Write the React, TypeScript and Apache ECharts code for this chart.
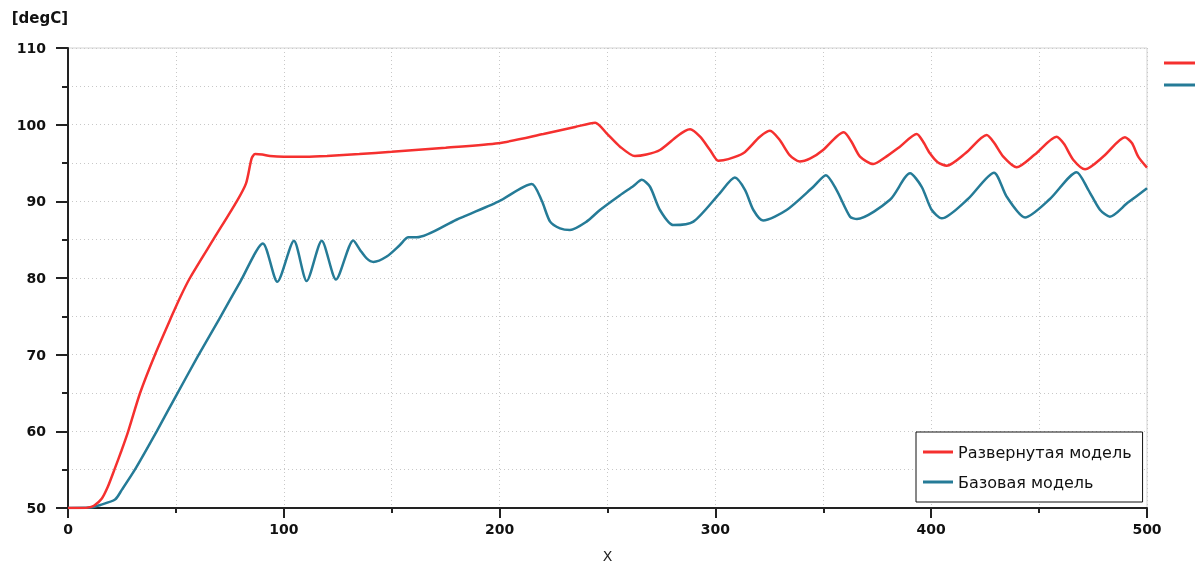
import React, { useEffect, useRef } from "react";
import * as echarts from "echarts";

const seriesNames = ["Развернутая модель", "Базовая модель"];
const redX = [0, 5, 9, 12, 15.6, 18.5, 21.5, 24.8, 27.9, 33.4, 40.3, 48, 52, 56.5, 67.3, 78.2, 82.5, 85.1, 86.7, 90, 93.6, 100, 110, 120, 135, 150, 175, 199.4, 220.3, 235, 244.3, 249.6, 255.8, 262.7, 268, 274.3, 282, 286, 288.3, 292.9, 297.5, 301.3, 306, 312.9, 320.6, 325.3, 329.8, 334.4, 339, 344, 349.9, 356.1, 359.5, 363, 367, 373.2, 379, 385.5, 393.3, 396, 399.4, 403, 407.2, 416, 425.7, 429, 433.4, 439.6, 448, 458.1, 461.5, 465.9, 471.3, 480, 489.8, 493, 496, 500];
const redY = [50, 50, 50.05, 50.3, 51.2, 52.8, 55, 57.5, 60, 65, 70, 75, 77.5, 80, 85, 90, 92.35, 95.6, 96.17, 96.1, 95.9, 95.8, 95.8, 95.9, 96.17, 96.47, 97.0, 97.57, 98.78, 99.7, 100.26, 98.87, 97.13, 95.9, 96.1, 96.7, 98.43, 99.2, 99.4, 98.43, 96.7, 95.3, 95.5, 96.26, 98.43, 99.2, 98.0, 96.04, 95.2, 95.6, 96.7, 98.43, 99.0, 97.8, 95.83, 94.87, 95.8, 97.13, 98.78, 97.9, 96.26, 95.1, 94.65, 96.3, 98.65, 97.7, 95.83, 94.44, 96.1, 98.43, 97.5, 95.4, 94.18, 95.9, 98.35, 97.6, 95.8, 94.4];
const blueX = [0, 10, 15, 21.8, 25, 31, 41.1, 50, 60, 70, 80, 90.3, 97, 104.7, 110.6, 117.6, 124.2, 132.2, 135.5, 138.4, 141.5, 147.7, 153.8, 157.7, 161.6, 180, 199.4, 214.9, 219.5, 223.4, 228, 232.6, 240.3, 246.5, 255.8, 262, 265.9, 269.7, 274.3, 280.5, 289.8, 302, 309, 313.7, 317.6, 322.1, 333, 345.4, 351.2, 356.1, 362.4, 365.6, 380.9, 390.2, 395.6, 400.2, 404.9, 417, 429.1, 435, 443.5, 455, 467.4, 472.8, 478.2, 482.8, 491, 500];
const blueY = [50, 50.05, 50.4, 51.1, 52.4, 55, 60, 64.6, 69.7, 74.6, 79.6, 84.5, 79.5, 84.87, 79.6, 84.87, 79.8, 84.9, 83.6, 82.56, 82.1, 82.8, 84.3, 85.3, 85.3, 87.6, 89.95, 92.26, 90.1, 87.35, 86.48, 86.26, 87.35, 88.87, 90.8, 92.0, 92.8, 91.9, 88.87, 86.9, 87.35, 91.04, 93.1, 91.5, 88.87, 87.5, 88.87, 91.9, 93.4, 91.5, 88.0, 87.7, 90.2, 93.65, 91.9, 88.9, 87.78, 90.3, 93.74, 90.6, 87.9, 90.3, 93.8, 91.5, 88.9, 88.0, 89.8, 91.7];
const colors = ["#f5302f", "#257b97"];

const zip = (xs: number[], ys: number[]) => xs.map((x, i) => [x, ys[i]]);

export default function App() {
  const ref = useRef<HTMLDivElement>(null);
  useEffect(() => {
    const chart = echarts.init(ref.current!, null, { renderer: "svg" });
    const labelStyle = { color: "#111", fontFamily: "DejaVu Sans", fontWeight: "bold", fontSize: 14 };
    const split = { show: true, lineStyle: { color: "#c8c8c8", type: [1, 3], width: 1 } };
    chart.setOption({
      animation: false,
      color: colors,
      grid: {
        left: 68, right: 48, top: 48, bottom: 56,
        containLabel: false, outerBoundsMode: "none",
        show: true, borderColor: "#d3d3d3", borderWidth: 1, backgroundColor: "transparent",
      },
      xAxis: {
        type: "value", min: 0, max: 500, interval: 100,
        name: "X", nameLocation: "middle", nameGap: 41,
        nameTextStyle: { color: "#222", fontFamily: "DejaVu Sans", fontSize: 14 },
        axisLine: { show: true, onZero: false, lineStyle: { color: "#222", width: 2 } },
        axisTick: { show: true, length: 10, lineStyle: { color: "#222", width: 2 } },
        minorTick: { show: true, splitNumber: 2, length: 5, lineStyle: { color: "#222", width: 2 } },
        axisLabel: { ...labelStyle, margin: 14 },
        splitLine: split,
        minorSplitLine: split,
      },
      yAxis: {
        type: "value", min: 50, max: 110, interval: 10,
        name: "[degC]", nameLocation: "end", nameGap: 30,
        nameTextStyle: { ...labelStyle, fontSize: 15, align: "right", verticalAlign: "middle", padding: [0, 0, 0, 0] },
        axisLine: { show: true, onZero: false, lineStyle: { color: "#222", width: 2 } },
        axisTick: { show: true, length: 12, lineStyle: { color: "#222", width: 2 } },
        minorTick: { show: true, splitNumber: 2, length: 6, lineStyle: { color: "#222", width: 2 } },
        axisLabel: { ...labelStyle, margin: 22 },
        splitLine: split,
        minorSplitLine: split,
      },
      legend: {
        orient: "vertical", left: 916, top: 432,
        backgroundColor: "#fff", borderColor: "#111", borderWidth: 1, borderRadius: 0,
        padding: [12, 11, 12, 7], itemWidth: 30, itemHeight: 3, itemGap: 14,
        textStyle: { color: "#111", fontFamily: "DejaVu Sans", fontSize: 16 },
        data: seriesNames.map((n) => ({ name: n, icon: "rect" })),
      },
      graphic: [
        { type: "line", shape: { x1: 1164, y1: 63, x2: 1195, y2: 63 }, style: { stroke: colors[0], lineWidth: 3 } },
        { type: "line", shape: { x1: 1164, y1: 85, x2: 1195, y2: 85 }, style: { stroke: colors[1], lineWidth: 3 } },
      ],
      series: [
        { name: seriesNames[0], type: "line", data: zip(redX, redY), showSymbol: false, symbol: "none", smooth: 0.25, lineStyle: { width: 2.5, color: colors[0] }, z: 3 },
        { name: seriesNames[1], type: "line", data: zip(blueX, blueY), showSymbol: false, symbol: "none", smooth: 0.25, lineStyle: { width: 2.5, color: colors[1] }, z: 2 },
      ],
    });
    return () => chart.dispose();
  }, []);
  return <div ref={ref} style={{ position: "fixed", left: 0, top: 0, width: 1195, height: 564 }} />;
}
